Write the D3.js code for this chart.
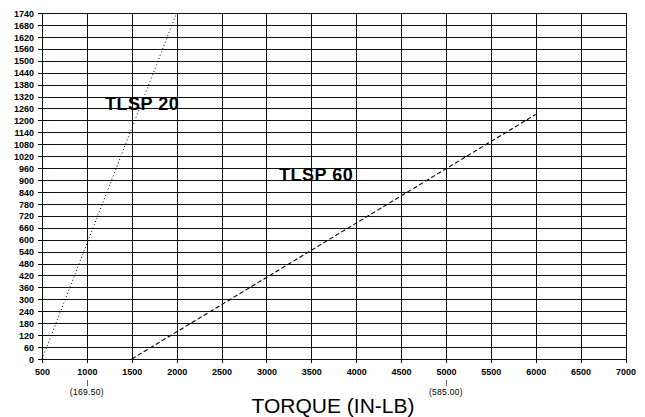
<!DOCTYPE html>
<html>
<head>
<meta charset="utf-8">
<script src="https://cdn.jsdelivr.net/npm/d3@7"></script>
<style>
    body { margin: 0; background: #fff; }
    svg { display: block; }
    .tick_label { font-family: "Liberation Sans", Arial, sans-serif; font-weight: bold; font-size: 9px; fill: #000; }
    .note_label { font-family: "Liberation Sans", Arial, sans-serif; font-size: 8.5px; fill: #000; letter-spacing: 0.3px; }
    .series_label { font-family: "Liberation Sans", Arial, sans-serif; font-weight: bold; font-size: 18px; fill: #000; letter-spacing: 0.5px; }
</style>
</head>
<body>
<svg id="chart" width="645" height="417"></svg>
<script>
// torque ticks along the bottom and the values up the side
const torque_ticks = [500, 1000, 1500, 2000, 2500, 3000, 3500, 4000, 4500, 5000, 5500, 6000, 6500, 7000];
const value_ticks = [0, 60, 120, 180, 240, 300, 360, 420, 480, 540, 600, 660, 720, 780, 840, 900, 960,
    1020, 1080, 1140, 1200, 1260, 1320, 1380, 1440, 1500, 1560, 1620, 1680, 1740];

// series
const tlsp20_torque = [500, 2000];
const tlsp20_values = [0, 1740];
const tlsp60_torque = [1500, 6000];
const tlsp60_values = [0, 1230];

// notes under the axis
const note_torque = [1000, 5000];
const note_text = ['(169.50)', '(585.00)'];

const svg = d3.select('#chart');
const margin = {top: 13, right: 19.5, bottom: 58, left: 42};
const width = +svg.attr('width') - margin.left - margin.right;
const height = +svg.attr('height') - margin.top - margin.bottom;

const x = d3.scaleLinear().domain([500, 7000]).range([margin.left, margin.left + width]);
const y = d3.scaleLinear().domain([0, 1740]).range([margin.top + height, margin.top]);

// grid
const grid = svg.append('g').attr('shape-rendering', 'crispEdges');
grid.selectAll('line.h').data(value_ticks).enter().append('line')
    .attr('class', 'h')
    .attr('x1', x(500) - 4).attr('x2', x(7000))
    .attr('y1', (d) => { return Math.round(y(d)) + 0.5; })
    .attr('y2', (d) => { return Math.round(y(d)) + 0.5; })
    .attr('stroke', '#111').attr('stroke-width', 1);
grid.selectAll('line.v').data(torque_ticks).enter().append('line')
    .attr('class', 'v')
    .attr('x1', (d) => { return Math.round(x(d)) + 0.5; })
    .attr('x2', (d) => { return Math.round(x(d)) + 0.5; })
    .attr('y1', y(1740)).attr('y2', y(0) + 4)
    .attr('stroke', '#111').attr('stroke-width', 1);

// axis labels through d3 axes, no domain path
const x_axis = svg.append('g')
    .attr('transform', 'translate(0,' + (y(0) + 5) + ')')
    .call(d3.axisBottom(x).tickValues(torque_ticks).tickSize(0).tickPadding(5).tickFormat(d3.format('d')));
x_axis.select('.domain').remove();
x_axis.selectAll('text').attr('class', 'tick_label').attr('font-family', null).attr('font-size', null);

const y_axis = svg.append('g')
    .attr('transform', 'translate(' + (x(500) - 7) + ',0)')
    .call(d3.axisLeft(y).tickValues(value_ticks).tickSize(0).tickPadding(1).tickFormat(d3.format('d')));
y_axis.select('.domain').remove();
y_axis.selectAll('text').attr('class', 'tick_label').attr('font-family', null).attr('font-size', null).attr('dy', '0.35em');

// series lines
const line = d3.line().x(function(d) { return x(d[0]); }).y(function(d) { return y(d[1]); });

svg.append('path')
    .datum(d3.zip(tlsp20_torque, tlsp20_values))
    .attr('fill', 'none')
    .attr('stroke', '#000')
    .attr('stroke-width', 1)
    .attr('stroke-dasharray', '1,2.5')
    .attr('d', line);

svg.append('path')
    .datum(d3.zip(tlsp60_torque, tlsp60_values))
    .attr('fill', 'none')
    .attr('stroke', '#000')
    .attr('stroke-width', 1.1)
    .attr('stroke-dasharray', '4.5,2.5')
    .attr('d', line);

// series names
svg.append('text').attr('class', 'series_label')
    .attr('x', 105).attr('y', 110)
    .text('TLSP 20');
svg.append('text').attr('class', 'series_label')
    .attr('x', 279).attr('y', 181)
    .text('TLSP 60');

// notes
note_torque.forEach((t, i) => {
    svg.append('line')
        .attr('x1', Math.round(x(t)) + 0.5).attr('x2', Math.round(x(t)) + 0.5)
        .attr('y1', 380).attr('y2', 386)
        .attr('stroke', '#666').attr('stroke-width', 1)
        .attr('shape-rendering', 'crispEdges');
    svg.append('text').attr('class', 'note_label')
        .attr('x', x(t)).attr('y', 395)
        .style('text-anchor', 'middle')
        .text(note_text[i]);
});

svg.append('text')
    .attr('x', 333).attr('y', 413)
    .style('font-family', '"Liberation Sans", Arial, sans-serif')
    .style('font-size', '21px')
    .style('fill', '#000')
    .style('text-anchor', 'middle')
    .text('TORQUE (IN-LB)');
</script>
</body>
</html>
